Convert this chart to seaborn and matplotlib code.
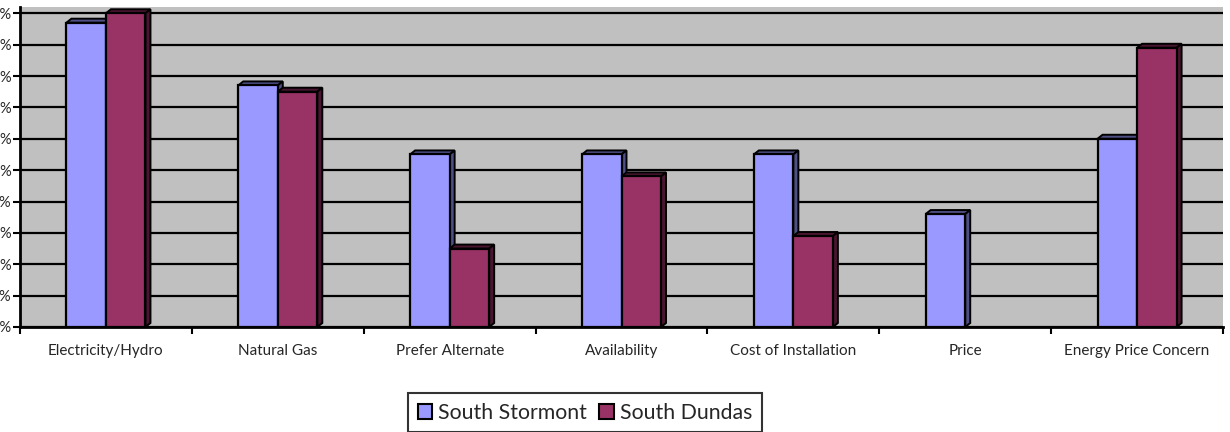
import matplotlib
matplotlib.use("Agg")
import matplotlib.pyplot as plt
from matplotlib.patches import Polygon, Patch
from matplotlib.ticker import FixedLocator
import seaborn as sns
import pandas as pd

categories = ["Electricity/Hydro", "Natural Gas", "Prefer Alternate", "Availability",
              "Cost of Installation", "Price", "Energy Price Concern"]
south_stormont = [97, 77, 55, 55, 55, 36, 60]
south_dundas = [100, 75, 25, 48, 29, 0, 89]
series_names = ["South Stormont", "South Dundas"]
y_ticks = [0, 10, 20, 30, 40, 50, 60, 70, 80, 90, 100]
y_tick_labels = [f"{v}%" for v in y_ticks]

colors = ["#9999FF", "#993366"]
side_colors = ["#4F4F85", "#4A1530"]

df = pd.DataFrame({
    "Category": categories * 2,
    "Value": south_stormont + south_dundas,
    "Series": [series_names[0]] * len(categories) + [series_names[1]] * len(categories),
})

sns.set_theme(style="white")
plt.rcParams["font.family"] = ["Lato", "DejaVu Sans"]

W, H = 1230, 432
fig = plt.figure(figsize=(W / 100, H / 100), dpi=100)
left, right, top, bottom = 20, 1223, 7, 327
ax = fig.add_axes([left / W, 1 - bottom / H, (right - left) / W, (bottom - top) / H])
ax.set_facecolor("#C0C0C0")

sns.barplot(data=df, x="Category", y="Value", hue="Series", palette=colors,
            width=0.46, edgecolor="black", linewidth=1.6, ax=ax, legend=False,
            saturation=1, zorder=3)

ax.set_xlim(-0.5, len(categories) - 0.5)
ax.set_ylim(0, 102)

# 3D depth faces derived from the bar patches
fig.canvas.draw()
inv = ax.transData.inverted()
p0 = inv.transform((0, 0))
p1 = inv.transform((5, 4))
ddx, ddy = p1[0] - p0[0], p1[1] - p0[1]
for ci, cont in enumerate(ax.containers):
    for p in cont.patches:
        h = p.get_height()
        if h <= 0:
            p.set_visible(False)
            continue
        x0 = p.get_x()
        x1 = x0 + p.get_width()
        top_face = Polygon([(x0, h), (x1, h), (x1 + ddx, h + ddy), (x0 + ddx, h + ddy)],
                           closed=True, facecolor=side_colors[ci], edgecolor="black",
                           linewidth=1.4, zorder=2.9, clip_on=False)
        side_face = Polygon([(x1, 0), (x1, h), (x1 + ddx, h + ddy), (x1 + ddx, ddy)],
                            closed=True, facecolor=side_colors[ci], edgecolor="black",
                            linewidth=1.4, zorder=2.9, clip_on=False)
        ax.add_patch(top_face)
        ax.add_patch(side_face)

ax.set_yticks(y_ticks)
ax.set_yticklabels(y_tick_labels, fontsize=10.5)
ax.yaxis.grid(True, color="black", linewidth=1.6, zorder=0)
ax.set_axisbelow(True)
ax.tick_params(axis="y", which="major", length=5, width=1.5, color="black", pad=1, left=True)
ax.tick_params(axis="x", which="major", length=0, labelsize=11, pad=12)
ax.xaxis.set_minor_locator(FixedLocator([i - 0.5 for i in range(len(categories) + 1)]))
ax.tick_params(axis="x", which="minor", length=5, width=1.5, color="black", bottom=True)
ax.set_xlabel("")
ax.set_ylabel("")
for s in ["top", "right"]:
    ax.spines[s].set_visible(False)
ax.spines["left"].set_color("black")
ax.spines["left"].set_linewidth(2)
ax.spines["bottom"].set_color("black")
ax.spines["bottom"].set_linewidth(2)

handles = [Patch(facecolor=c, edgecolor="black", linewidth=1.5) for c in colors]
leg = fig.legend(handles, series_names, loc="upper left",
                 bbox_to_anchor=(408 / W, 1 - 393 / H), ncol=2, fontsize=15.3,
                 frameon=True, fancybox=False, edgecolor="black", handlelength=0.7,
                 handleheight=0.7, handletextpad=0.25, columnspacing=0.6,
                 borderpad=0.45, borderaxespad=0)
leg.get_frame().set_linewidth(1.5)

fig.savefig("out.png", dpi=100, facecolor="white")
